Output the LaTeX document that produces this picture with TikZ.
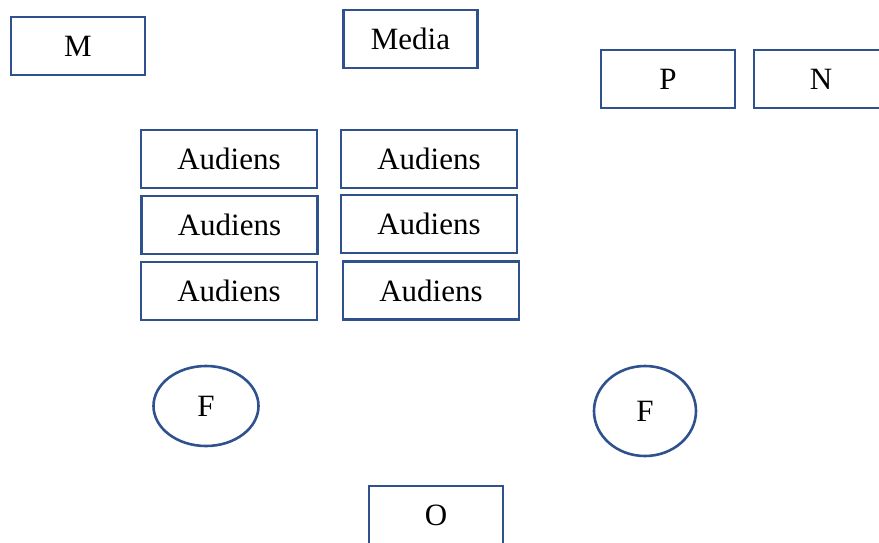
\documentclass[tikz,border=0pt]{standalone}
\usepackage{fontspec}
\setmainfont{Liberation Serif}
\usetikzlibrary{shapes.geometric}
\definecolor{boxblue}{RGB}{47,82,143}
\begin{document}
\begin{tikzpicture}[x=1pt,y=-1pt,
  every node/.style={font=\fontsize{31}{37}\selectfont, text=black},
  sbox/.style={draw=boxblue, line width=2.6pt, rectangle, inner sep=0pt, minimum height=58pt},
  shortbox/.style={sbox, minimum width=134pt},
  wbox/.style={sbox, minimum width=176pt},
  fell/.style={draw=boxblue, line width=2.6pt, ellipse, inner sep=0pt}]
\useasboundingbox (0,0) rectangle (879,542);
\clip (0,0) rectangle (879,542);
\node[shortbox] (m) at (78,46) {M};
\node[shortbox] (media) at (410.5,39) {Media};
\node[shortbox] (p) at (668,79) {P};
\node[shortbox] (n) at (821,79) {N};
\node[wbox] (a1) at (229,159) {Audiens};
\node[wbox] (a2) at (229.5,225) {Audiens};
\node[wbox] (a3) at (229,291) {Audiens};
\node[wbox] (b1) at (429,159) {Audiens};
\node[wbox] (b2) at (429,224) {Audiens};
\node[wbox] (b3) at (431,290.5) {Audiens};
\node[fell, minimum width=105pt, minimum height=80pt] (f1) at (206,406) {F};
\node[fell, minimum width=102pt, minimum height=90pt] (f2) at (645,411) {F};
\node[shortbox] (o) at (436,515) {O};
\end{tikzpicture}
\end{document}
